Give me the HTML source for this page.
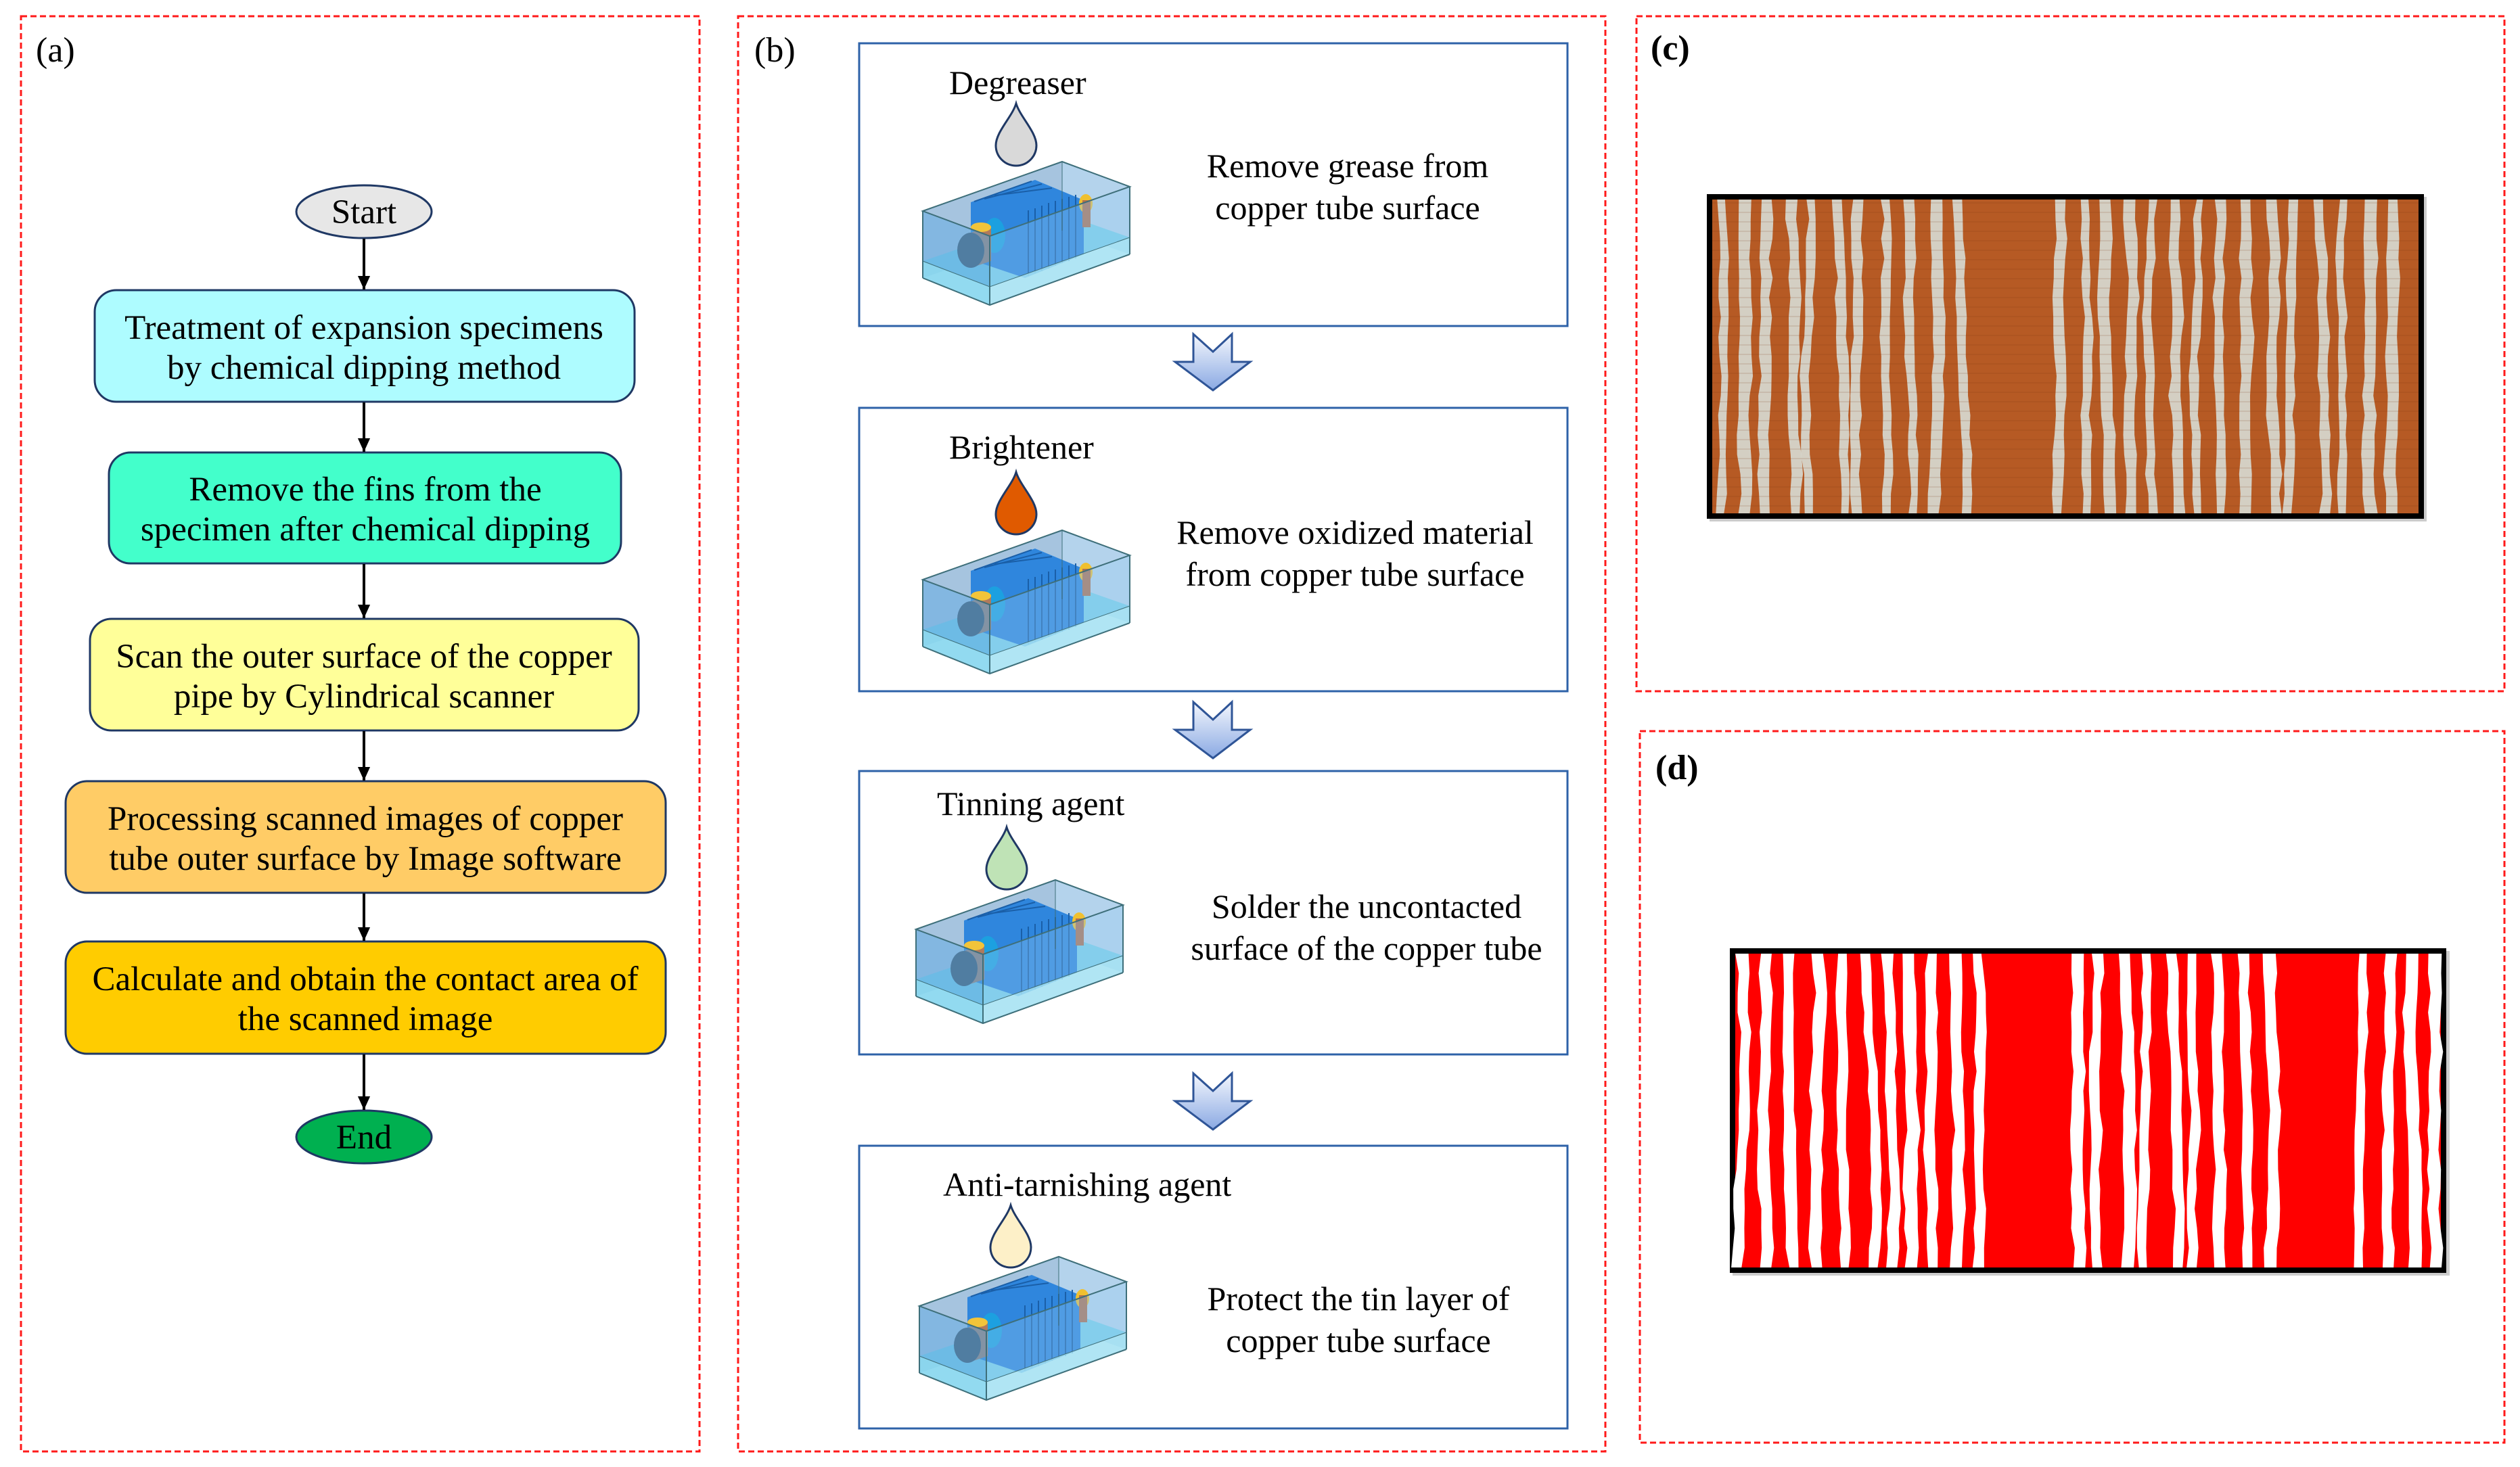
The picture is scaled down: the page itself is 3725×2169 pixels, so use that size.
<!DOCTYPE html>
<html><head><meta charset="utf-8"><style>
html,body{margin:0;padding:0;background:#fff}
svg{display:block}
text{font-family:"Liberation Serif",serif;fill:#000}
</style></head><body>
<svg id="s" width="3725" height="2169" viewBox="0 0 3725 2169" xmlns="http://www.w3.org/2000/svg">
<defs>
<linearGradient id="ag" x1="0" y1="0" x2="0" y2="1"><stop offset="0" stop-color="#f4f7fd"/><stop offset="1" stop-color="#8aa9e3"/></linearGradient>
<marker id="ah" markerWidth="20" markerHeight="24" refX="22" refY="10" orient="auto" markerUnits="userSpaceOnUse" viewBox="0 0 22 20"><path d="M0,0 L22,10 L0,20z" fill="#000"/></marker>
<g id="tank">
 <polygon points="14,76 220,3 320,40 113,113" fill="#c8dcec" opacity="0.6"/>
 <polygon points="14,76 220,3 220,105 14,175" fill="#8fb3d6" opacity="0.7"/>
 <polygon points="220,3 320,40 320,140 220,105" fill="#a9cdea" opacity="0.8"/>
 <polygon points="14,150 220,80 320,115 113,188" fill="#7fd3ec"/>
 <polygon points="85,63 180,30 252,60 252,140 165,175 85,148" fill="#2f86dd"/>
 <g stroke="#1a5fa8" stroke-width="2">
  <line x1="170" y1="75" x2="170" y2="172"/><line x1="180" y1="72" x2="180" y2="168"/><line x1="190" y1="68" x2="190" y2="165"/><line x1="200" y1="64" x2="200" y2="161"/><line x1="210" y1="61" x2="210" y2="157"/><line x1="220" y1="58" x2="220" y2="153"/><line x1="230" y1="55" x2="230" y2="150"/><line x1="240" y1="52" x2="240" y2="146"/>
  <line x1="90" y1="62" x2="175" y2="32"/><line x1="105" y1="58" x2="190" y2="36"/><line x1="120" y1="53" x2="205" y2="42"/>
 </g>
 <ellipse cx="255" cy="65" rx="10" ry="14" fill="#f0c030"/>
 <rect x="250" y="60" width="12" height="40" fill="#b07050"/>
 <ellipse cx="120" cy="112" rx="16" ry="26" fill="#1ca0e0"/>
 <polygon points="85,108 115,98 115,150 85,160" fill="#b07a5c"/>
 <ellipse cx="100" cy="100" rx="15" ry="7" fill="#f2c43a"/>
 <ellipse cx="85" cy="134" rx="20" ry="26" fill="#3e4b55"/>
 <polygon points="14,76 113,113 113,215 14,175" fill="#5fa8e0" opacity="0.55"/>
 <polygon points="113,113 320,40 320,140 113,215" fill="#8fc5ee" opacity="0.35"/>
 <polygon points="14,150 113,188 113,215 14,175" fill="#8ddcf0" opacity="0.8"/>
 <polygon points="113,188 320,115 320,140 113,215" fill="#a6e3f3" opacity="0.8"/>
 <g fill="none" stroke="#3e6f7a" stroke-width="2">
  <polygon points="14,76 220,3 320,40 113,113"/>
  <line x1="14" y1="76" x2="14" y2="175"/><line x1="113" y1="113" x2="113" y2="215"/><line x1="320" y1="40" x2="320" y2="140"/>
  <polyline points="14,175 113,215 320,140"/>
  <line x1="220" y1="3" x2="220" y2="105" stroke-width="1"/>
  <polyline points="14,150 113,188 320,115" stroke-width="1"/>
 </g>
</g>
<path id="drop" d="M30,0 C24,20 0,42 0,62 A30,30 0 0 0 60,62 C60,42 36,20 30,0Z"/>
<polygon id="barrow" points="27,0 56,26 84,0 84,41 111,41 56,83 0,41 27,41" fill="url(#ag)" stroke="#2f5597" stroke-width="3" stroke-linejoin="miter"/>
</defs>

<g fill="none" stroke="#ff1a1a" stroke-width="3" stroke-dasharray="9,5">
 <rect x="31" y="24" width="1003" height="2122"/>
 <rect x="1091" y="24" width="1282" height="2122"/>
 <rect x="2419" y="24" width="1283" height="998"/>
 <rect x="2424" y="1081" width="1278" height="1052"/>
</g>
<text x="53" y="91" font-size="52">(a)</text>
<text x="1115" y="91" font-size="52">(b)</text>
<text x="2440" y="88" font-size="52" font-weight="bold">(c)</text>
<text x="2447" y="1152" font-size="52" font-weight="bold">(d)</text>

<g stroke="#1f3864" stroke-width="3">
 <ellipse cx="538" cy="313" rx="100" ry="39" fill="#e7e7e7"/>
 <rect x="140" y="429" width="798" height="165" rx="32" fill="#aefcff"/>
 <rect x="161" y="669" width="757" height="164" rx="32" fill="#43ffcb"/>
 <rect x="133" y="915" width="811" height="165" rx="32" fill="#ffff99"/>
 <rect x="97" y="1155" width="887" height="165" rx="32" fill="#ffcc66"/>
 <rect x="97" y="1392" width="887" height="166" rx="32" fill="#ffcc00"/>
 <ellipse cx="538" cy="1681" rx="100" ry="39" fill="#00b050"/>
</g>
<g stroke="#000" stroke-width="4" marker-end="url(#ah)">
 <line x1="538" y1="353" x2="538" y2="428"/>
 <line x1="538" y1="595" x2="538" y2="668"/>
 <line x1="538" y1="834" x2="538" y2="914"/>
 <line x1="538" y1="1081" x2="538" y2="1154"/>
 <line x1="538" y1="1321" x2="538" y2="1391"/>
 <line x1="538" y1="1559" x2="538" y2="1641"/>
</g>
<g font-size="51" text-anchor="middle">
 <text x="538" y="330">Start</text>
 <text x="538" y="501">Treatment of expansion specimens</text>
 <text x="538" y="560">by chemical dipping method</text>
 <text x="540" y="740">Remove the fins from the</text>
 <text x="540" y="799">specimen after chemical dipping</text>
 <text x="538" y="987">Scan the outer surface of the copper</text>
 <text x="538" y="1046">pipe by Cylindrical scanner</text>
 <text x="540" y="1227">Processing scanned images of copper</text>
 <text x="540" y="1286">tube outer surface by Image software</text>
 <text x="540" y="1464">Calculate and obtain the contact area of</text>
 <text x="540" y="1523">the scanned image</text>
 <text x="538" y="1698">End</text>
</g>

<g fill="#fff" stroke="#2e62a8" stroke-width="3">
 <rect x="1270" y="64" width="1047" height="418"/>
 <rect x="1270" y="603" width="1047" height="419"/>
 <rect x="1270" y="1140" width="1047" height="419"/>
 <rect x="1270" y="1694" width="1047" height="418"/>
</g>
<use href="#barrow" x="1737" y="494"/>
<use href="#barrow" x="1737" y="1038"/>
<use href="#barrow" x="1737" y="1587"/>

<use href="#drop" x="1472" y="153" fill="#d9d9d9" stroke="#1f3864" stroke-width="3"/>
<use href="#drop" x="1472" y="698" fill="#e05a00" stroke="#1f3864" stroke-width="3"/>
<use href="#drop" x="1458" y="1223" fill="#bfe3b6" stroke="#1f3864" stroke-width="3"/>
<use href="#drop" x="1464" y="1782" fill="#fdf0c8" stroke="#1f3864" stroke-width="3"/>

<use href="#tank" x="1350" y="236"/>
<use href="#tank" x="1350" y="781"/>
<use href="#tank" x="1340" y="1298"/>
<use href="#tank" x="1345" y="1855"/>

<g font-size="50">
 <text x="1403" y="139">Degreaser</text>
 <text x="1403" y="678">Brightener</text>
 <text x="1385" y="1205">Tinning agent</text>
 <text x="1394" y="1768">Anti-tarnishing agent</text>
</g>
<g font-size="50" text-anchor="middle">
 <text x="1992" y="262">Remove grease from</text>
 <text x="1992" y="324">copper tube surface</text>
 <text x="2003" y="804">Remove oxidized material</text>
 <text x="2003" y="866">from copper tube surface</text>
 <text x="2020" y="1357">Solder the uncontacted</text>
 <text x="2020" y="1419">surface of the copper tube</text>
 <text x="2008" y="1937">Protect the tin layer of</text>
 <text x="2008" y="1999">copper tube surface</text>
</g>

<rect x="2527" y="291" width="1060" height="480" fill="#999" opacity="0.5"/>
<rect x="2523" y="287" width="1060" height="480" fill="#000"/>
<rect x="2531" y="295" width="1044" height="464" fill="#b65a24"/>
<g id="cst"></g>
<rect x="2561" y="1406" width="1060" height="480" fill="#999" opacity="0.5"/>
<rect x="2557" y="1402" width="1059" height="480" fill="#000"/>
<rect x="2565" y="1410" width="1043" height="464" fill="#ff0000"/>
<g id="dst"></g>
</svg>
<script>
(function(){
 var ns="http://www.w3.org/2000/svg";
 var seed=7;function r(){seed=(seed*16807)%2147483647;return seed/2147483647;}
 function stripes(gid,x0,y0,w,h,col,sp,sw,gaps,op){
  var g=document.getElementById(gid);
  for(var x=x0+12;x<x0+w-10;x+=sp+ (r()-0.5)*8){
   var f=(x-x0)/w,skip=false;
   for(var i=0;i<gaps.length;i++){if(f>gaps[i][0]&&f<gaps[i][1])skip=true;}
   if(skip)continue;
   var ww=sw+(r()-0.5)*6,pl=[],pr=[],n=16,dx=0;
   for(var k=0;k<=n;k++){dx+=(r()-0.5)*5;var y=y0+h*k/n;pl.push((x+dx-ww/2+(r()-0.5)*4).toFixed(1)+","+y.toFixed(1));pr.unshift((x+dx+ww/2+(r()-0.5)*4).toFixed(1)+","+y.toFixed(1));}
   var p=document.createElementNS(ns,"polygon");p.setAttribute("points",pl.concat(pr).join(" "));p.setAttribute("fill",col);if(op)p.setAttribute("opacity",op);g.appendChild(p);
  }
 }
 stripes("cst",2531,295,1044,464,"#d6d6cc",36,15,[[0.37,0.46]],0.95);
 var g=document.getElementById("cst");
 for(var y=300;y<760;y+=14){var l=document.createElementNS(ns,"line");l.setAttribute("x1",2531);l.setAttribute("x2",3575);l.setAttribute("y1",y);l.setAttribute("y2",y);l.setAttribute("stroke","#7a3410");l.setAttribute("stroke-width","1");l.setAttribute("opacity","0.25");g.appendChild(l);}
 stripes("dst",2565,1410,1043,464,"#ffffff",35,16,[[0.375,0.465],[0.79,0.86]],null);
})();
</script>
</body></html>
